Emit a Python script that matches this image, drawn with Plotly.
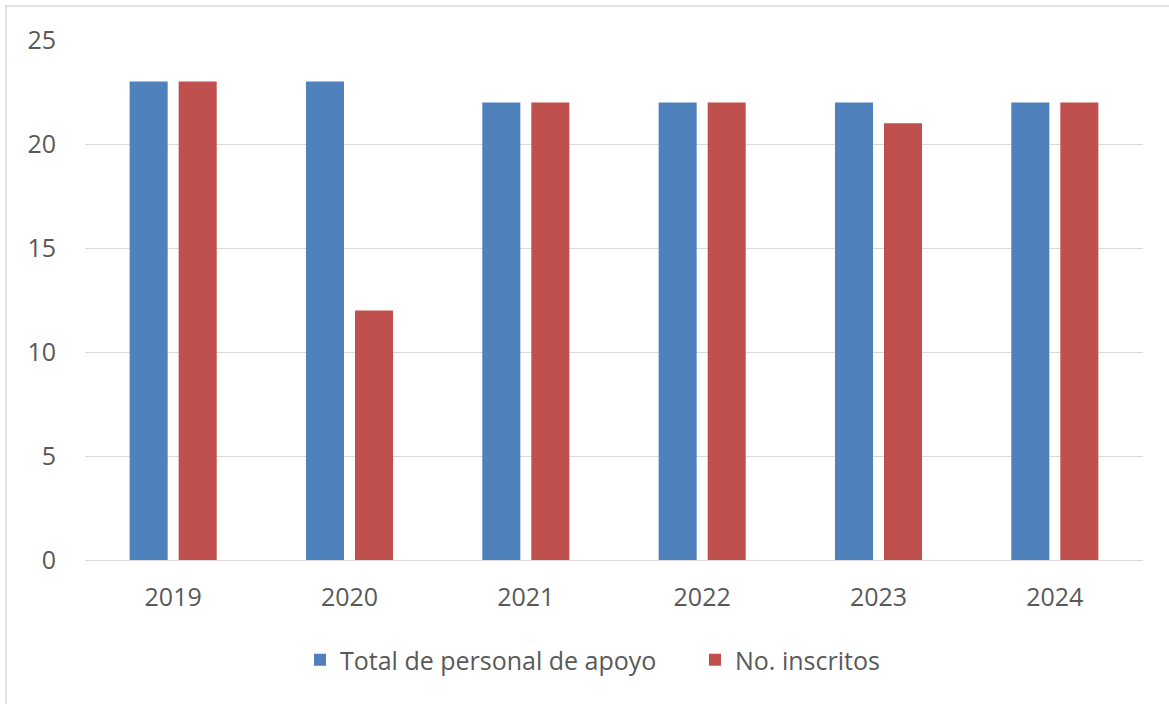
import plotly.graph_objects as go

years = ["2019", "2020", "2021", "2022", "2023", "2024"]
total_personal = [23, 23, 22, 22, 22, 22]
inscritos = [23, 12, 22, 22, 21, 22]
y_ticks = [0, 5, 10, 15, 20, 25]

W, H = 1169, 704
L, R, T, B = 85, 26, 40, 144
pw, ph = W - L - R, H - T - B

def px_x(p):
    return (p - L) / pw

def px_y(p):
    return (H - B - p) / ph

FONT = "Open Sans, Noto Sans, sans-serif"
TXT = "#595959"

fig = go.Figure()
fig.add_trace(go.Bar(x=years, y=total_personal, name="Total de personal de apoyo",
                     marker=dict(color="#4F81BD", line=dict(width=0))))
fig.add_trace(go.Bar(x=years, y=inscritos, name="No. inscritos",
                     marker=dict(color="#C0504D", line=dict(width=0))))

fig.update_layout(
    width=W, height=H,
    margin=dict(l=L, r=R, t=T, b=B, autoexpand=False),
    paper_bgcolor="white", plot_bgcolor="white",
    barmode="group", bargap=0.444, bargroupgap=0.224,
    font=dict(family=FONT, size=25, color=TXT),
    showlegend=True,
    legend=dict(orientation="h", x=px_x(300), xanchor="left", y=px_y(660), yanchor="middle",
                font=dict(size=25, color=TXT), itemwidth=30, tracegroupgap=0,
                entrywidth=350, bgcolor="rgba(0,0,0,0)"),
    xaxis=dict(showgrid=False, showline=False, ticks="", ticklabelstandoff=20,
               tickfont=dict(size=25, color=TXT)),
    yaxis=dict(range=[0, 25], tickvals=y_ticks, showgrid=True, gridcolor="#d9d9d9", gridwidth=1.3,
               zeroline=True, zerolinecolor="#d9d9d9", zerolinewidth=1.3, showline=False,
               ticks="", ticklabelstandoff=28, tickfont=dict(size=25, color=TXT)),
    shapes=[dict(type="rect", xref="paper", yref="paper",
                 x0=px_x(6), x1=px_x(1180), y0=px_y(715), y1=px_y(6),
                 line=dict(color="#d9d9d9", width=1.5), layer="below")],
)

fig.write_html("out.html", config={"displayModeBar": False},
               post_script="document.body.style.margin='0px';document.body.style.padding='0px';")
